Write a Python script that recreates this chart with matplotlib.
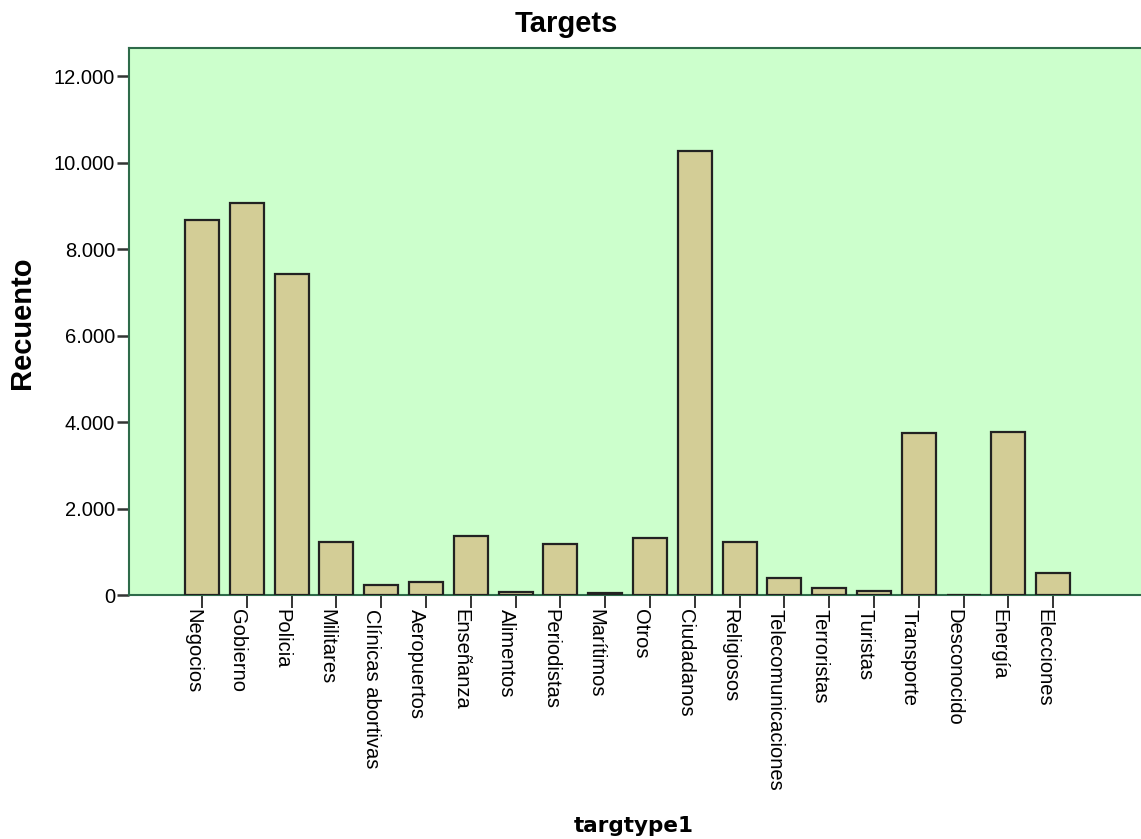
import numpy as np
from matplotlib import pyplot as plt
from matplotlib.ticker import FuncFormatter
from matplotlib.transforms import ScaledTranslation

plt.rcParams['font.family'] = ['Liberation Sans', 'DejaVu Sans']

# target types and counts
categories = ['Negocios', 'Gobierno', 'Policia', 'Militares', 'Clínicas abortivas',
              'Aeropuertos', 'Enseñanza', 'Alimentos', 'Periodistas', 'Marítimos',
              'Otros', 'Ciudadanos', 'Religiosos', 'Telecomunicaciones', 'Terroristas',
              'Turistas', 'Transporte', 'Desconocido', 'Energía', 'Elecciones']
counts = [8667, 9054, 7416, 1221, 232,
          309, 1367, 70, 1182, 46,
          1321, 10267, 1236, 402, 170,
          93, 3739, 10, 3777, 517]
yticks = [0, 2000, 4000, 6000, 8000, 10000, 12000]

fig = plt.figure(figsize=(11.41, 8.39), dpi=100)
ax = fig.add_axes([0.1131, 0.2908, 0.8869, 0.652])
ax.set_facecolor('#ccffcc')

x = np.arange(len(categories))
ax.bar(x, counts, width=0.76, color='#d3cd96', edgecolor='#222222', linewidth=1.6, zorder=3)

ax.set_xlim(-1.63, 20.96)
ax.set_ylim(0, 12650)
ax.set_yticks(yticks)
ax.yaxis.set_major_formatter(FuncFormatter(lambda v, p: f'{int(v):,}'.replace(',', '.')))
ax.set_xticks(x)
ax.set_xticklabels(categories, rotation=270, ha='right', va='top')
shift = ScaledTranslation(3 / 100, 0, fig.dpi_scale_trans)
for lab in ax.get_xticklabels():
    lab.set_transform(lab.get_transform() + shift)

ax.tick_params(axis='y', length=9, width=1.8, color='#333333', labelsize=14.5, pad=1)
ax.tick_params(axis='x', length=9, width=1.4, color='#333333', labelsize=14.5, pad=1)

for side in ['left', 'top', 'bottom']:
    ax.spines[side].set_color('#2e6b4a')
    ax.spines[side].set_linewidth(1.5)
ax.spines['right'].set_visible(False)

fig.text(0.4965, 0.9619, 'Targets', ha='center', va='baseline', fontsize=21, fontweight='bold')
fig.text(0.0193, 0.615, 'Recuento', ha='center', va='center', rotation=90, fontsize=21, fontweight='bold')
fig.text(0.5557, 0.0155, 'targtype1', ha='center', va='center', fontsize=15.5, fontweight='bold',
         family='DejaVu Sans')

fig.savefig('out.png', dpi=100)
